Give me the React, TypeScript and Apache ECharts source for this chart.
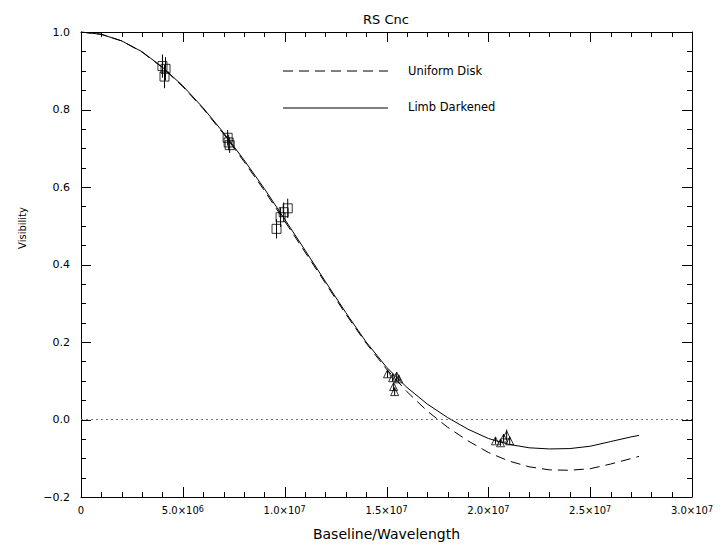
import React, { useEffect, useRef } from "react";
import * as echarts from "echarts";

// Model curves (Baseline/Wavelength, visibility)
const curveX = [0, 1e6, 2e6, 3e6, 4e6, 5e6, 6e6, 7e6, 8e6, 9e6, 10e6, 11e6, 12e6, 13e6, 14e6, 15e6, 16e6, 17e6, 18e6, 19e6, 20e6, 21e6, 22e6, 23e6, 24e6, 25e6, 26e6, 27e6, 27.4e6];
const uniformDisk = [1.0, 0.994, 0.977, 0.948, 0.908, 0.859, 0.802, 0.737, 0.666, 0.591, 0.512, 0.432, 0.352, 0.272, 0.197, 0.13, 0.072, 0.022, -0.02, -0.055, -0.085, -0.107, -0.122, -0.13, -0.131, -0.127, -0.115, -0.101, -0.095];
const limbDarkened = [1.0, 0.994, 0.977, 0.949, 0.909, 0.861, 0.804, 0.74, 0.67, 0.596, 0.517, 0.437, 0.356, 0.276, 0.2, 0.135, 0.083, 0.04, 0.005, -0.025, -0.049, -0.064, -0.073, -0.076, -0.075, -0.069, -0.057, -0.045, -0.041];

// Observations (squares)
const sqX = [4.0e6, 4.15e6, 4.1e6, 7.2e6, 7.25e6, 7.3e6, 9.6e6, 9.8e6, 9.95e6, 10.15e6];
const sqV = [0.912, 0.905, 0.885, 0.727, 0.715, 0.708, 0.492, 0.522, 0.535, 0.545];
const sqErr = [0.03, 0.03, 0.03, 0.02, 0.02, 0.02, 0.025, 0.025, 0.025, 0.025];

// Observations (triangles)
const triX = [15.05e6, 15.3e6, 15.5e6, 15.35e6, 15.4e6, 15.6e6, 20.35e6, 20.6e6, 20.75e6, 20.9e6, 21.05e6];
const triV = [0.118, 0.108, 0.112, 0.085, 0.072, 0.105, -0.055, -0.06, -0.048, -0.04, -0.055];
const triErr = [0.01, 0.01, 0.01, 0.01, 0.01, 0.01, 0.008, 0.008, 0.01, 0.014, 0.008];

// Tick positions (major + minor)
const xTickValues = [0, 1e6, 2e6, 3e6, 4e6, 5e6, 6e6, 7e6, 8e6, 9e6, 10e6, 11e6, 12e6, 13e6, 14e6, 15e6, 16e6, 17e6, 18e6, 19e6, 20e6, 21e6, 22e6, 23e6, 24e6, 25e6, 26e6, 27e6, 28e6, 29e6, 30e6];
const yTickValues = [-0.2, -0.15, -0.1, -0.05, 0, 0.05, 0.1, 0.15, 0.2, 0.25, 0.3, 0.35, 0.4, 0.45, 0.5, 0.55, 0.6, 0.65, 0.7, 0.75, 0.8, 0.85, 0.9, 0.95, 1.0];

const FONT = "DejaVu Sans";

function xLabel(v: number): string {
  if (v === 0) return "{b|0}";
  const e = Math.floor(Math.log10(v) + 1e-9);
  const m = v / Math.pow(10, e);
  return `{b|${m.toFixed(1)}×10}{s|${e}}`;
}

const black = "#000";
const mkLine = () => ({ show: true, onZero: false, lineStyle: { color: "#000", width: 1 } });

export default function App() {
  const ref = useRef<HTMLDivElement>(null);
  useEffect(() => {
    if (!ref.current) return;
    const chart = echarts.init(ref.current, null, { renderer: "svg" });
    const errRender = (params: any, api: any) => {
      const x = api.value(0);
      const lo = api.coord([x, api.value(1)]);
      const hi = api.coord([x, api.value(2)]);
      return {
        type: "line",
        shape: { x1: lo[0], y1: lo[1], x2: hi[0], y2: hi[1] },
        style: { stroke: black, lineWidth: 1 },
      };
    };
    const xTickRender = (params: any, api: any) => {
      const v = api.value(0);
      const cs = params.coordSys;
      const px = Math.round(api.coord([v, 0])[0]) + 0.5;
      const major = Math.abs(v / 5e6 - Math.round(v / 5e6)) < 1e-6;
      const len = major ? 10 : 5;
      const bottom = cs.y + cs.height;
      const top = cs.y;
      return {
        type: "group",
        children: [
          { type: "line", shape: { x1: px, y1: bottom, x2: px, y2: bottom - len }, style: { stroke: black, lineWidth: 1 } },
          { type: "line", shape: { x1: px, y1: top, x2: px, y2: top + len }, style: { stroke: black, lineWidth: 1 } },
        ],
      };
    };
    const yTickRender = (params: any, api: any) => {
      const v = api.value(1);
      const cs = params.coordSys;
      const py = Math.round(api.coord([0, v])[1]) + 0.5;
      const major = Math.abs(v / 0.2 - Math.round(v / 0.2)) < 1e-6;
      const len = major ? 10 : 5;
      const left = cs.x;
      const right = cs.x + cs.width;
      return {
        type: "group",
        children: [
          { type: "line", shape: { x1: left, y1: py, x2: left + len, y2: py }, style: { stroke: black, lineWidth: 1 } },
          { type: "line", shape: { x1: right, y1: py, x2: right - len, y2: py }, style: { stroke: black, lineWidth: 1 } },
        ],
      };
    };
    const option: any = {
      animation: false,
      grid: { left: 81, right: 31, top: 32, bottom: 51 },
      xAxis: [
        {
          type: "value", min: 0, max: 3e7, interval: 5e6, position: "bottom",
          axisLine: mkLine(), axisTick: { show: false }, minorTick: { show: false }, splitLine: { show: false },
          axisLabel: {
            margin: 8, color: black, fontFamily: FONT, hideOverlap: false,
            showMinLabel: true, showMaxLabel: true,
            formatter: xLabel,
            rich: {
              b: { fontSize: 10, lineHeight: 10, fontFamily: FONT, color: black, verticalAlign: "bottom", padding: [7, 0, 0, 0] },
              s: { fontSize: 8, lineHeight: 8, fontFamily: FONT, color: black, verticalAlign: "top" },
            },
          },
          name: "Baseline/Wavelength", nameLocation: "middle", nameGap: 30,
          nameTextStyle: { fontSize: 14, fontFamily: FONT, color: black },
        },
        {
          type: "value", min: 0, max: 3e7, interval: 5e6, position: "top",
          axisLine: mkLine(), axisTick: { show: false }, minorTick: { show: false }, splitLine: { show: false },
          axisLabel: { show: false },
        },
      ],
      yAxis: [
        {
          type: "value", min: -0.2, max: 1.0, interval: 0.2, position: "left",
          axisLine: mkLine(), axisTick: { show: false }, minorTick: { show: false }, splitLine: { show: false },
          axisLabel: {
            margin: 11, fontSize: 11, color: black, fontFamily: FONT,
            formatter: (v: number) => (Math.abs(v) < 1e-9 ? "0.0" : v.toFixed(1).replace("-", "−")),
          },
        },
        {
          type: "value", min: -0.2, max: 1.0, interval: 0.2, position: "right",
          axisLine: mkLine(), axisTick: { show: false }, minorTick: { show: false }, splitLine: { show: false },
          axisLabel: { show: false },
        },
      ],
      series: [
        {
          type: "custom", renderItem: xTickRender, silent: true,
          data: xTickValues.map((v) => [v, 0]),
        },
        {
          type: "custom", renderItem: yTickRender, silent: true,
          data: yTickValues.map((v) => [0, v]),
        },
        {
          type: "line", name: "Uniform Disk", showSymbol: false, symbol: "none",
          data: curveX.map((x, i) => [x, uniformDisk[i]]),
          lineStyle: { color: black, width: 1, type: [10, 6] },
          markLine: {
            silent: true, symbol: "none", label: { show: false },
            lineStyle: { color: "#777", type: [2, 3], width: 1 },
            data: [{ yAxis: 0 }],
          },
        },
        {
          type: "line", name: "Limb Darkened", showSymbol: false, symbol: "none",
          data: curveX.map((x, i) => [x, limbDarkened[i]]),
          lineStyle: { color: black, width: 1 },
        },
        {
          type: "custom", renderItem: errRender,
          data: sqX.map((x, i) => [x, sqV[i] - sqErr[i], sqV[i] + sqErr[i]]),
        },
        {
          type: "custom", renderItem: errRender,
          data: triX.map((x, i) => [x, triV[i] - triErr[i], triV[i] + triErr[i]]),
        },
        {
          type: "scatter", symbol: "rect", symbolSize: 9,
          data: sqX.map((x, i) => [x, sqV[i]]),
          itemStyle: { color: "rgba(0,0,0,0)", borderColor: black, borderWidth: 1 },
        },
        {
          type: "scatter", symbol: "triangle", symbolSize: 8,
          data: triX.map((x, i) => [x, triV[i]]),
          itemStyle: { color: "rgba(0,0,0,0)", borderColor: black, borderWidth: 1 },
        },
      ],
      graphic: [
        {
          type: "text", x: 386, y: 19,
          style: { text: "RS Cnc", fontSize: 13, fontFamily: FONT, fill: black, align: "center", verticalAlign: "middle" },
        },
        {
          type: "text", x: 22, y: 228, rotation: Math.PI / 2,
          style: { text: "Visibility", fontSize: 10, fontFamily: FONT, fill: black, align: "center", verticalAlign: "middle" },
        },
        {
          type: "line", shape: { x1: 283, y1: 71, x2: 388, y2: 71 },
          style: { stroke: black, lineWidth: 1, lineDash: [10, 6] },
        },
        {
          type: "text", x: 408, y: 71,
          style: { text: "Uniform Disk", fontSize: 11.5, fontFamily: FONT, fill: black, align: "left", verticalAlign: "middle" },
        },
        {
          type: "line", shape: { x1: 283, y1: 108, x2: 388, y2: 108 },
          style: { stroke: black, lineWidth: 1 },
        },
        {
          type: "text", x: 408, y: 107,
          style: { text: "Limb Darkened", fontSize: 11.5, fontFamily: FONT, fill: black, align: "left", verticalAlign: "middle" },
        },
      ],
    };
    chart.setOption(option);
    return () => chart.dispose();
  }, []);
  return (
    <div
      ref={ref}
      style={{ position: "absolute", left: 0, top: 0, width: 723, height: 548, background: "#fff" }}
    />
  );
}
